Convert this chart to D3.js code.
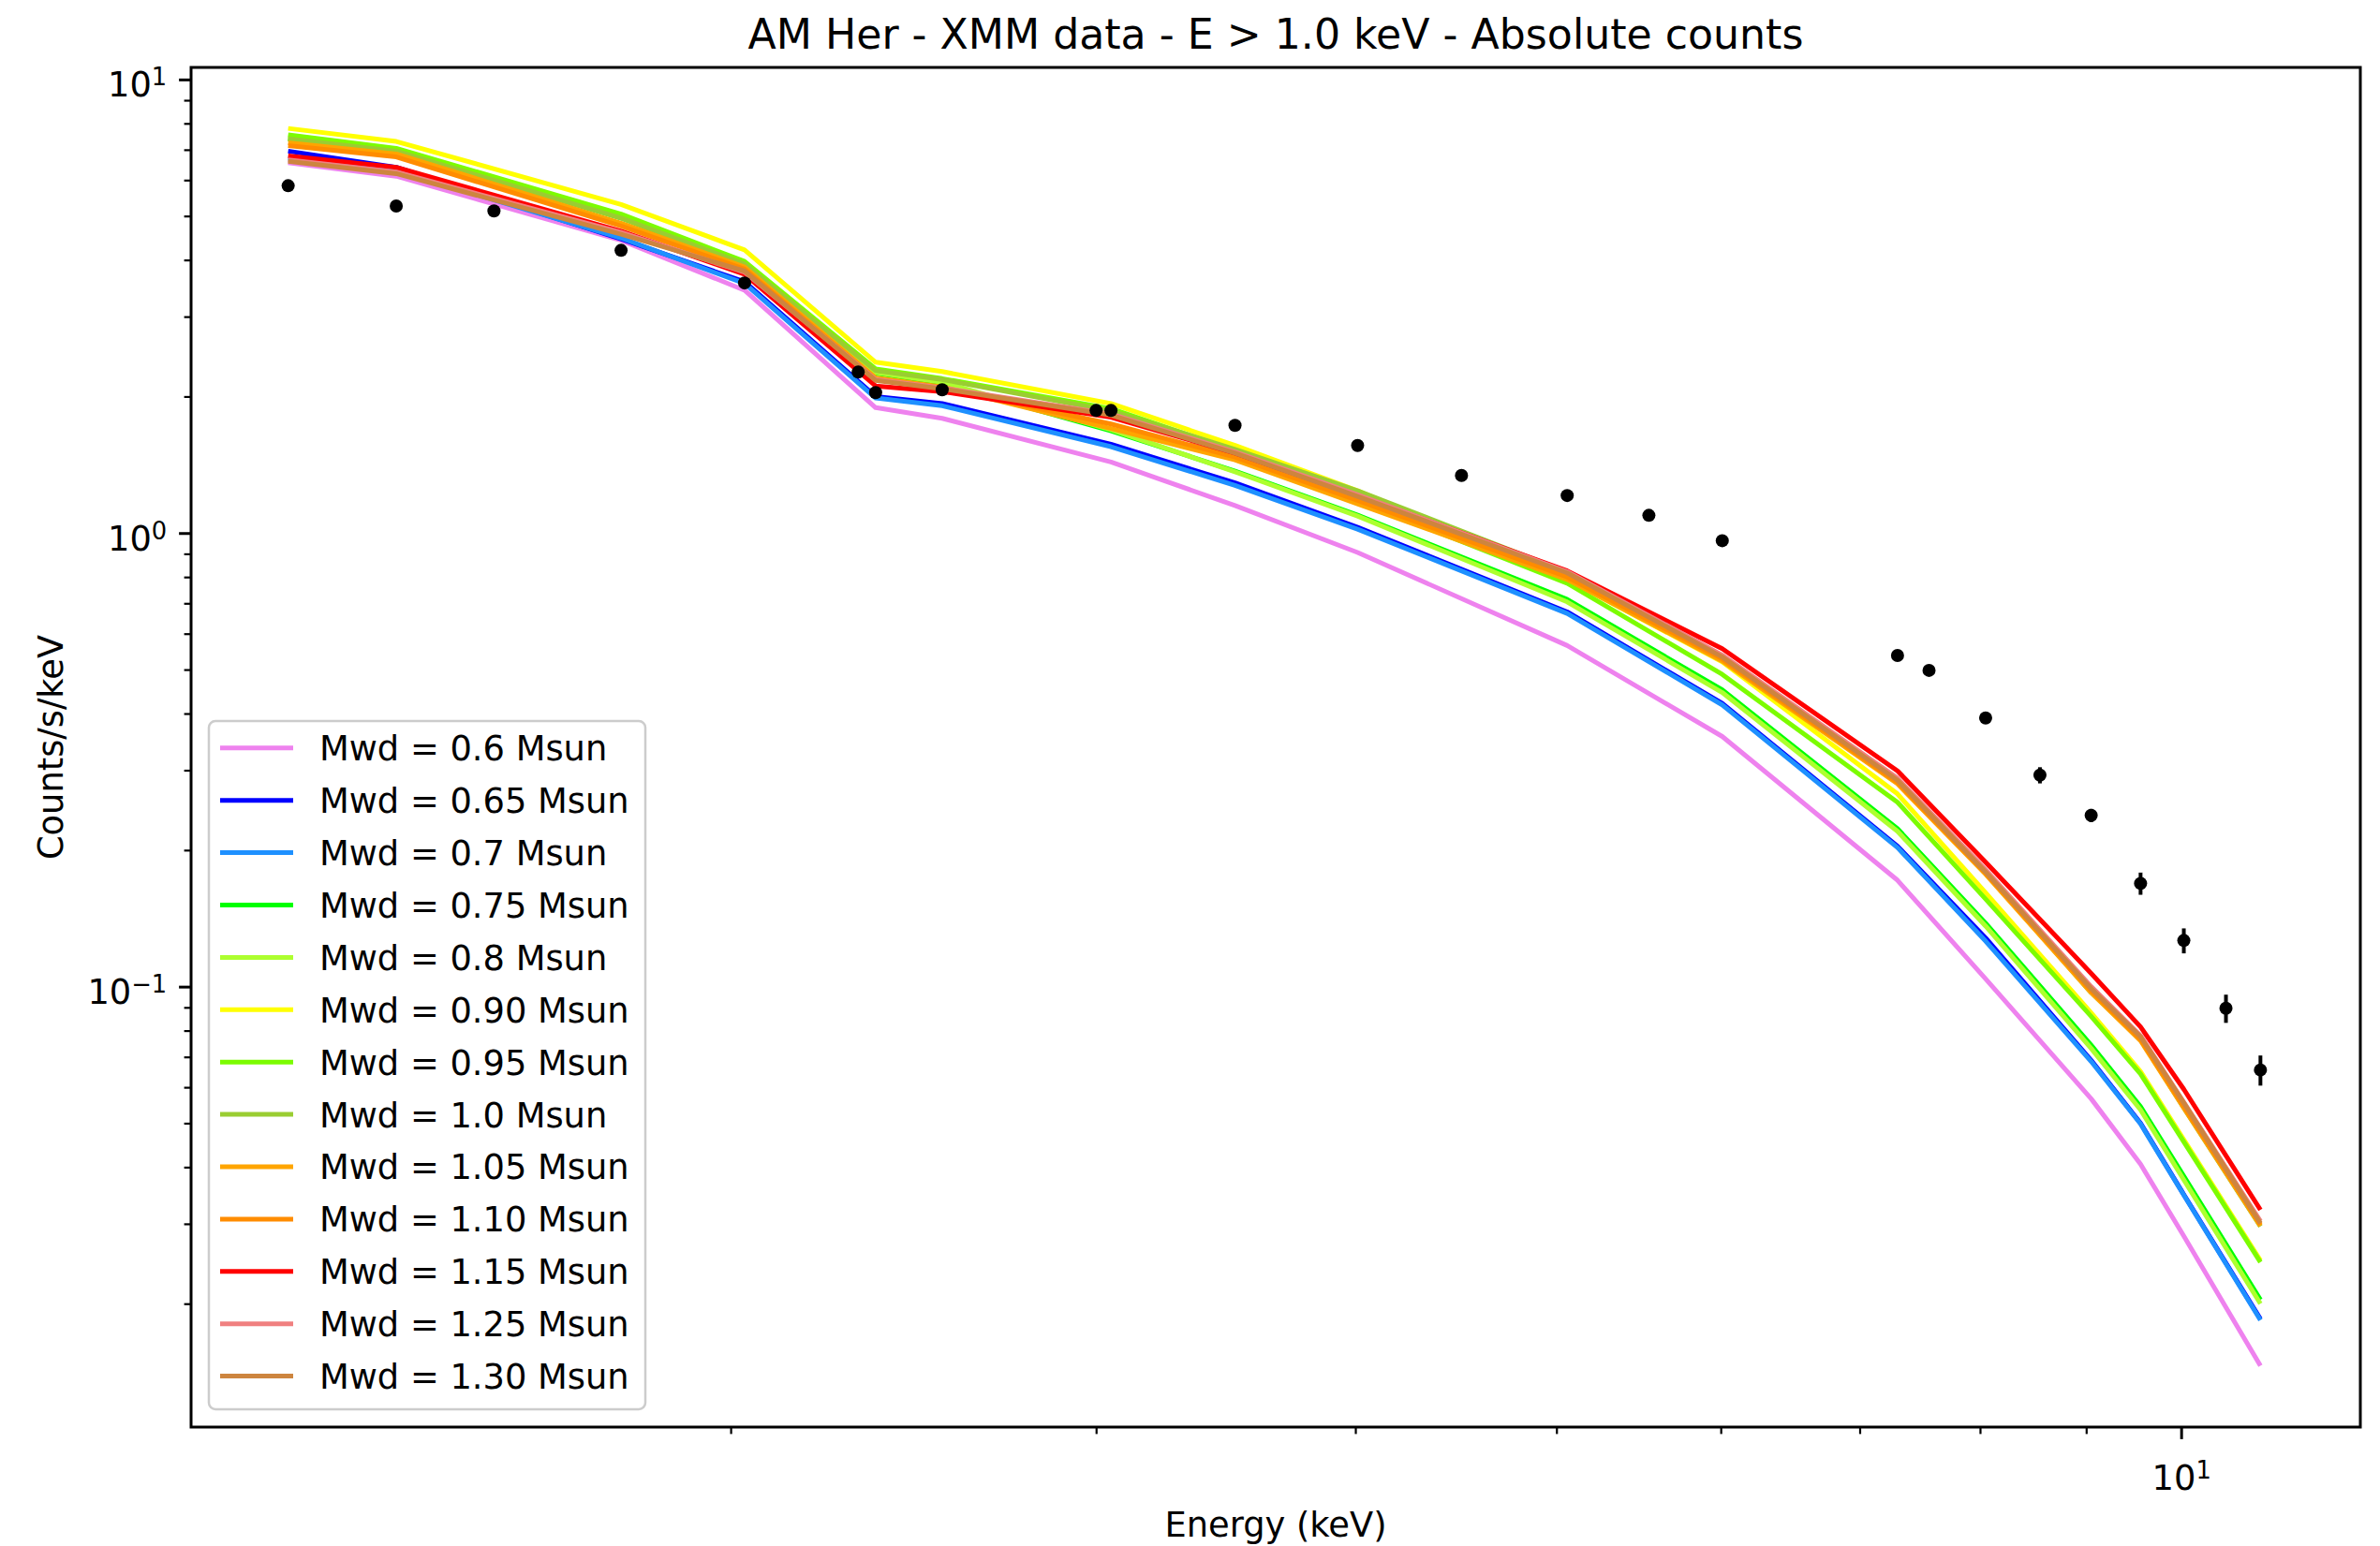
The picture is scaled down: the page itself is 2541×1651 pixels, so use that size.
<!DOCTYPE html>
<html>
<head>
<meta charset="utf-8">
<script src="https://cdn.jsdelivr.net/npm/d3@7"></script>
<style>
body { margin: 0; background: #fff; }
svg { display: block; font-family: "DejaVu Sans", sans-serif; }
</style>
</head>
<body>
<svg id="chart"></svg>
<script>
// Observed XMM points (keV, counts/s/keV, error)
var dataEnergy = [1.224, 1.38, 1.538, 1.771, 2.031, 2.304, 2.349, 2.529, 3.0, 3.05, 3.5, 4.01, 4.5, 5.06, 5.54, 6.01, 7.3, 7.56, 8.05, 8.55, 9.05, 9.56, 10.03, 10.51, 10.92];
var dataCounts = [5.83, 5.26, 5.13, 4.20, 3.56, 2.264, 2.04, 2.07, 1.863, 1.863, 1.727, 1.56, 1.34, 1.21, 1.094, 0.962, 0.537, 0.498, 0.391, 0.2926, 0.2385, 0.1689, 0.1264, 0.0896, 0.0655];
var dataError = [0.04, 0.04, 0.04, 0.035, 0.03, 0.025, 0.025, 0.025, 0.02, 0.02, 0.02, 0.018, 0.016, 0.014, 0.013, 0.012, 0.009, 0.009, 0.009, 0.012, 0.008, 0.0095, 0.008, 0.0064, 0.005];

// Model grid
var modelEnergy = [1.224, 1.38, 1.771, 2.031, 2.349, 2.529, 3.05, 3.5, 4.01, 5.06, 6.01, 7.3, 8.05, 9.05, 9.56, 10.03, 10.92];

var mwd060 = [6.55, 6.12, 4.42, 3.43, 1.89, 1.79, 1.434, 1.15, 0.906, 0.565, 0.356, 0.1716, 0.104, 0.0566, 0.0406, 0.0282, 0.0146];
var mwd065 = [6.95, 6.40, 4.45, 3.58, 2.00, 1.93, 1.57, 1.29, 1.03, 0.670, 0.421, 0.204, 0.128, 0.0688, 0.0500, 0.0348, 0.0185];
var mwd070 = [6.70, 6.30, 4.47, 3.55, 1.985, 1.908, 1.55, 1.274, 1.02, 0.665, 0.418, 0.2026, 0.126, 0.0684, 0.0498, 0.0347, 0.0184];
var mwd075 = [7.40, 6.95, 4.95, 3.90, 2.25, 2.14, 1.68, 1.37, 1.095, 0.714, 0.451, 0.2229, 0.138, 0.0743, 0.0544, 0.0382, 0.0204];
var mwd080 = [7.45, 6.97, 4.97, 3.92, 2.26, 2.15, 1.69, 1.365, 1.09, 0.705, 0.445, 0.220, 0.136, 0.0731, 0.0535, 0.0375, 0.0200];
var mwd090 = [7.80, 7.30, 5.30, 4.21, 2.38, 2.27, 1.93, 1.56, 1.24, 0.79, 0.52, 0.266, 0.161, 0.0875, 0.065, 0.046, 0.0249];
var mwd095 = [7.55, 7.05, 5.05, 3.97, 2.30, 2.19, 1.88, 1.52, 1.18, 0.775, 0.488, 0.255, 0.156, 0.086, 0.0642, 0.0455, 0.0247];
var mwd100 = [7.40, 6.95, 4.95, 3.92, 2.28, 2.18, 1.86, 1.53, 1.24, 0.82, 0.535, 0.283, 0.178, 0.097, 0.0765, 0.054, 0.0296];
var mwd105 = [7.25, 6.85, 4.82, 3.86, 2.20, 2.10, 1.70, 1.45, 1.16, 0.79, 0.522, 0.280, 0.177, 0.097, 0.076, 0.054, 0.0297];
var mwd110 = [7.15, 6.75, 4.75, 3.82, 2.18, 2.09, 1.74, 1.47, 1.18, 0.80, 0.528, 0.282, 0.178, 0.098, 0.0765, 0.0545, 0.0299];
var mwd115 = [6.78, 6.40, 4.63, 3.72, 2.11, 2.05, 1.80, 1.50, 1.21, 0.825, 0.556, 0.299, 0.188, 0.107, 0.0815, 0.0594, 0.0322];
var mwd125 = [6.65, 6.25, 4.60, 3.76, 2.18, 2.09, 1.83, 1.51, 1.215, 0.822, 0.538, 0.288, 0.181, 0.100, 0.078, 0.0556, 0.0304];
var mwd130 = [6.60, 6.20, 4.56, 3.78, 2.17, 2.08, 1.82, 1.50, 1.205, 0.817, 0.533, 0.285, 0.179, 0.099, 0.0775, 0.0554, 0.0301];

var seriesLabels = ['Mwd = 0.6 Msun', 'Mwd = 0.65 Msun', 'Mwd = 0.7 Msun', 'Mwd = 0.75 Msun', 'Mwd = 0.8 Msun',
    'Mwd = 0.90 Msun', 'Mwd = 0.95 Msun', 'Mwd = 1.0 Msun', 'Mwd = 1.05 Msun', 'Mwd = 1.10 Msun',
    'Mwd = 1.15 Msun', 'Mwd = 1.25 Msun', 'Mwd = 1.30 Msun'];
var seriesColors = ['violet', 'blue', 'dodgerblue', 'lime', 'greenyellow', 'yellow', 'lawngreen',
    'yellowgreen', 'orange', 'darkorange', 'red', 'lightcoral', 'peru'];
var seriesValues = [mwd060, mwd065, mwd070, mwd075, mwd080, mwd090, mwd095, mwd100, mwd105, mwd110, mwd115, mwd125, mwd130];

// Ticks
var xMajorTicks = [10];
var xMinorTicks = [2, 3, 4, 5, 6, 7, 8, 9];
var yMajorTicks = [0.1, 1, 10];
var yMinorTicks = [0.02, 0.03, 0.04, 0.05, 0.06, 0.07, 0.08, 0.09, 0.2, 0.3, 0.4, 0.5, 0.6, 0.7, 0.8, 0.9, 2, 3, 4, 5, 6, 7, 8, 9];

var svgWidth = 2541;
var svgHeight = 1651;
var margin = {top: 72, right: 21, bottom: 127, left: 204};
var chartWidth = svgWidth - margin.left - margin.right;
var chartHeight = svgHeight - margin.top - margin.bottom;
var fontSize = 36.8;

var svg = d3.select('#chart')
    .attr('width', svgWidth)
    .attr('height', svgHeight);

svg.append('rect').attr('width', svgWidth).attr('height', svgHeight).attr('fill', '#fff');

var xScale = d3.scaleLog().domain([1.099, 12.2]).range([0, chartWidth]);
var yScale = d3.scaleLog().domain([0.01069, 10.63]).range([chartHeight, 0]);

var chart = svg.append('g')
    .attr('transform', `translate(${margin.left}, ${margin.top})`);

// Model curves
var series = seriesValues.map(function(values, i) {
    return {
        label: seriesLabels[i],
        color: seriesColors[i],
        points: modelEnergy.map(function(e, j) { return {e: e, v: values[j]}; })
    };
});

var valueline = d3.line()
    .x(function(d) { return xScale(d.e); })
    .y(function(d) { return yScale(d.v); });

chart.selectAll('.model')
    .data(series)
    .enter().append('path')
    .attr('class', 'model')
    .attr('d', function(d) { return valueline(d.points); })
    .attr('fill', 'none')
    .attr('stroke', function(d) { return d.color; })
    .attr('stroke-width', 5)
    .attr('stroke-linejoin', 'round');

// Data points with error bars
var points = dataEnergy.map(function(e, i) { return {e: e, v: dataCounts[i], err: dataError[i]}; });

chart.selectAll('.errbar')
    .data(points)
    .enter().append('line')
    .attr('x1', function(d) { return xScale(d.e); })
    .attr('x2', function(d) { return xScale(d.e); })
    .attr('y1', function(d) { return yScale(d.v - d.err); })
    .attr('y2', function(d) { return yScale(d.v + d.err); })
    .attr('stroke', '#000')
    .attr('stroke-width', 4);

chart.selectAll('.dot')
    .data(points)
    .enter().append('circle')
    .attr('cx', function(d) { return xScale(d.e); })
    .attr('cy', function(d) { return yScale(d.v); })
    .attr('r', 7)
    .attr('fill', '#000');

// Axes
function styleAxis(g, width) {
    g.select('.domain').remove();
    g.selectAll('.tick line').attr('stroke', '#000').attr('stroke-width', width);
}

function powerLabel(textSel, d) {
    var exp = Math.round(Math.log10(d));
    textSel.text(null);
    textSel.append('tspan').text('10');
    textSel.append('tspan')
        .attr('dy', -12)
        .attr('font-size', fontSize * 0.7)
        .text(exp < 0 ? '\u2212' + (-exp) : String(exp));
}

chart.append('g')
    .attr('transform', `translate(0, ${chartHeight})`)
    .call(d3.axisBottom(xScale).tickValues(xMinorTicks).tickSize(7.4).tickFormat(''))
    .call(function(g) { styleAxis(g, 2.2); });

var xAxis = chart.append('g')
    .attr('transform', `translate(0, ${chartHeight})`)
    .call(d3.axisBottom(xScale).tickValues(xMajorTicks).tickSize(12.9).tickPadding(12.9).tickFormat(d3.format('')))
    .call(function(g) { styleAxis(g, 3); });

xAxis.selectAll('.tick text')
    .attr('fill', '#000')
    .attr('font-size', fontSize)
    .attr('font-family', '"DejaVu Sans", sans-serif')
    .attr('dy', null)
    .attr('y', 67)
    .each(function(d) { powerLabel(d3.select(this), d); });

chart.append('g')
    .call(d3.axisLeft(yScale).tickValues(yMinorTicks).tickSize(7.4).tickFormat(''))
    .call(function(g) { styleAxis(g, 2.2); });

var yAxis = chart.append('g')
    .call(d3.axisLeft(yScale).tickValues(yMajorTicks).tickSize(12.9).tickPadding(12.9).tickFormat(d3.format('')))
    .call(function(g) { styleAxis(g, 3); });

yAxis.selectAll('.tick text')
    .attr('fill', '#000')
    .attr('font-size', fontSize)
    .attr('font-family', '"DejaVu Sans", sans-serif')
    .attr('dy', null)
    .attr('y', 18)
    .each(function(d) { powerLabel(d3.select(this), d); });

// Frame
chart.append('rect')
    .attr('width', chartWidth)
    .attr('height', chartHeight)
    .attr('fill', 'none')
    .attr('stroke', '#000')
    .attr('stroke-width', 3);

// Legend
var legend = chart.append('g')
    .attr('transform', 'translate(19, 698)');

legend.append('rect')
    .attr('width', 466)
    .attr('height', 735)
    .attr('rx', 7)
    .attr('fill', '#fff')
    .attr('fill-opacity', 0.8)
    .attr('stroke', '#cccccc')
    .attr('stroke-width', 2.5);

var rows = legend.selectAll('.entry')
    .data(series)
    .enter().append('g')
    .attr('transform', function(d, i) { return `translate(0, ${28.8 + i * 55.9})`; });

rows.append('line')
    .attr('x1', 12).attr('x2', 90)
    .attr('stroke', function(d) { return d.color; })
    .attr('stroke-width', 5);

rows.append('text')
    .attr('x', 118)
    .attr('y', 13.4)
    .attr('font-size', fontSize)
    .attr('fill', '#000')
    .text(function(d) { return d.label; });

// Titles
svg.append('text')
    .attr('x', margin.left + chartWidth / 2)
    .attr('y', 52)
    .attr('text-anchor', 'middle')
    .attr('font-size', 44.2)
    .text('AM Her - XMM data - E > 1.0 keV - Absolute counts');

svg.append('text')
    .attr('x', margin.left + chartWidth / 2)
    .attr('y', 1641)
    .attr('text-anchor', 'middle')
    .attr('font-size', fontSize)
    .text('Energy (keV)');

svg.append('text')
    .attr('transform', `translate(67, ${margin.top + chartHeight / 2}) rotate(-90)`)
    .attr('text-anchor', 'middle')
    .attr('font-size', fontSize)
    .text('Counts/s/keV');
</script>
</body>
</html>
